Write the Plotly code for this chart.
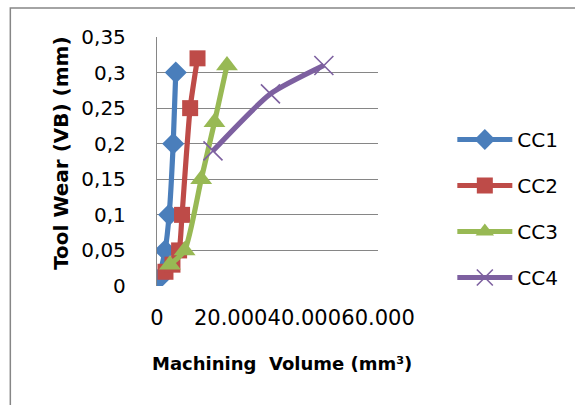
import plotly.graph_objects as go

# ---- data ----
cc1_x = [0.5, 2.2, 3.3, 4.4, 5.1]
cc1_y = [0.01, 0.05, 0.10, 0.20, 0.30]
cc2_x = [2.3, 4.2, 6.0, 6.8, 9.0, 11.0]
cc2_y = [0.02, 0.03, 0.05, 0.10, 0.25, 0.32]
cc3_x = [3.5, 7.5, 12.0, 15.6, 19.0]
cc3_y = [0.03, 0.05, 0.15, 0.23, 0.31]
cc4_x = [15.2, 30.8, 45.3]
cc4_y = [0.19, 0.27, 0.31]

x_tickvals = [0, 20, 40, 60]
x_ticktext = ["0", "20.000", "40.000", "60.000"]
y_tickvals = [0, 0.05, 0.10, 0.15, 0.20, 0.25, 0.30, 0.35]
y_ticktext = ["0", "0,05", "0,1", "0,15", "0,2", "0,25", "0,3", "0,35"]

W, H = 575, 405
L, R, T, B = 157, 195, 37, 119
PW, PH = W - L - R, H - T - B

def px(x):
    return (x - L) / PW

def py(y):
    return (H - B - y) / PH

FONT = "DejaVu Sans"
GRID = "#868686"

fig = go.Figure()
series = [
    ("CC1", cc1_x, cc1_y, "#4A7EBB", dict(symbol="diamond", size=17)),
    ("CC2", cc2_x, cc2_y, "#BE4B48", dict(symbol="square", size=16)),
    ("CC3", cc3_x, cc3_y, "#98B954", dict(symbol="triangle-up", size=19)),
    ("CC4", cc4_x, cc4_y, "#7D60A0", dict(symbol="x-thin", size=19,
                                          line=dict(width=1.6, color="#7D60A0"))),
]
for name, xs, ys, col, mk in series:
    m = dict(color=col, **mk)
    fig.add_trace(go.Scatter(
        x=xs, y=ys, name=name, mode="lines+markers",
        line=dict(color=col, width=5.2, shape="spline", smoothing=0.6),
        marker=m, legendgroup=name,
    ))

fig.update_layout(
    width=W, height=H,
    margin=dict(l=L, r=R, t=T, b=B),
    paper_bgcolor="white", plot_bgcolor="white",
    font=dict(family=FONT, size=20, color="black"),
    showlegend=True,
    legend=dict(x=px(455), y=py(120), xanchor="left", yanchor="top",
                traceorder="grouped", tracegroupgap=17, itemwidth=55,
                font=dict(family=FONT, size=20), bgcolor="rgba(0,0,0,0)"),
    xaxis=dict(range=[0, 60], tickvals=x_tickvals, ticktext=x_ticktext,
               showgrid=False, zeroline=False, showline=False,
               ticks="", ticklabelstandoff=17, tickangle=0,
               tickfont=dict(family=FONT, size=21)),
    yaxis=dict(range=[0, 0.35], tickvals=y_tickvals, ticktext=y_ticktext,
               showgrid=True, gridcolor=GRID, gridwidth=1.3,
               zeroline=False, showline=True, linecolor=GRID, linewidth=1.3,
               ticks="", ticklabelstandoff=26,
               tickfont=dict(family=FONT, size=20)),
    shapes=[dict(type="rect", xref="paper", yref="paper",
                 x0=px(9), x1=px(W + 20), y0=py(H + 20), y1=py(8),
                 line=dict(color=GRID, width=1.5), fillcolor="rgba(0,0,0,0)",
                 layer="below")],
    annotations=[
        dict(text="Machining\u00a0 Volume (mm³)", xref="paper", yref="paper",
             x=px(283), y=py(363), xanchor="center", yanchor="middle",
             showarrow=False, font=dict(family=FONT, size=18, color="black", weight="bold")),
        dict(text="Tool Wear (VB) (mm)", xref="paper", yref="paper",
             x=px(60), y=py(153), xanchor="center", yanchor="middle",
             textangle=-90, showarrow=False,
             font=dict(family=FONT, size=20, color="black", weight="bold")),
    ],
)

fig.write_html("out.html")
